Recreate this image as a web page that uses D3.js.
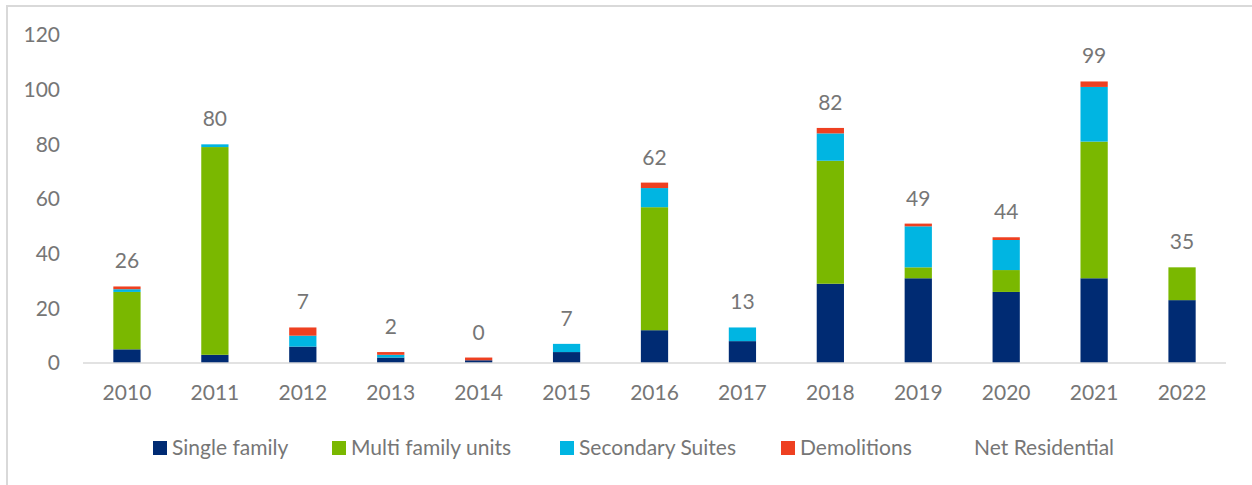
<!DOCTYPE html>
<meta charset="utf-8">
<html>
<!-- Load d3.js -->
<script src="https://d3js.org/d3.v7.min.js"></script>
<style>
  body { margin: 0; background: #fff; }
  text { font-family: Lato, "Open Sans", sans-serif; fill: #767676; }
</style>
<div id="chart"></div>

<script>

// data
var years = ["2010","2011","2012","2013","2014","2015","2016","2017","2018","2019","2020","2021","2022"];
var singleFamily    = [5, 3, 6, 2, 1, 4, 12, 8, 29, 31, 26, 31, 23];
var multiFamily     = [21, 76, 0, 0, 0, 0, 45, 0, 45, 4, 8, 50, 12];
var secondarySuites = [1, 1, 4, 1, 0, 3, 7, 5, 10, 15, 11, 20, 0];
var demolitions     = [1, 0, 3, 1, 1, 0, 2, 0, 2, 1, 1, 2, 0];
var netResidential  = [26, 80, 7, 2, 0, 7, 62, 13, 82, 49, 44, 99, 35];
var yTicks = [0, 20, 40, 60, 80, 100, 120];

var seriesNames = ["Single family", "Multi family units", "Secondary Suites", "Demolitions"];
var colors = ["#002B73", "#7AB800", "#00B5E2", "#EE4021"];

var width = 1252,
    height = 485;

var svg = d3.select("#chart")
  .append("svg")
    .attr("width", width)
    .attr("height", height);

// light frame (only top and left edges show)
svg.append("rect")
  .attr("x", 7)
  .attr("y", 6)
  .attr("width", width + 20)
  .attr("height", height + 20)
  .attr("fill", "none")
  .attr("stroke", "#d9d9d9")
  .attr("stroke-width", 2);

var x = d3.scaleBand()
  .domain(years)
  .range([83, 1226])
  .paddingInner(0.69)
  .paddingOuter(0.345);

var y = d3.scaleLinear()
  .domain([0, 120])
  .range([363, 35]);

// build table for the stack
var table = years.map(function(yr, i) {
  return {
    year: yr,
    "Single family": singleFamily[i],
    "Multi family units": multiFamily[i],
    "Secondary Suites": secondarySuites[i],
    "Demolitions": demolitions[i],
    net: netResidential[i]
  };
});

var stacked = d3.stack().keys(seriesNames)(table);

// y axis labels (no line, no ticks)
svg.append("g")
  .attr("transform", "translate(60,0)")
  .call(d3.axisLeft(y).tickValues(yTicks).tickSize(0).tickPadding(0))
  .call(function(g) { g.select(".domain").remove(); })
  .selectAll("text")
    .style("font-size", "21px")
    .attr("fill", "#767676");

// bars
svg.append("g")
  .selectAll("g")
  .data(stacked)
  .enter().append("g")
    .attr("fill", function(d, i) { return colors[i]; })
  .selectAll("rect")
  .data(function(d) { return d; })
  .enter().append("rect")
    .attr("x", function(d) { return x(d.data.year); })
    .attr("y", function(d) { return y(d[1]); })
    .attr("height", function(d) { return y(d[0]) - y(d[1]); })
    .attr("width", x.bandwidth());

// baseline
svg.append("line")
  .attr("x1", 83)
  .attr("x2", 1226)
  .attr("y1", y(0))
  .attr("y2", y(0))
  .attr("stroke", "#d9d9d9")
  .attr("stroke-width", 1.5);

// x axis labels
svg.append("g")
  .attr("transform", "translate(0," + y(0) + ")")
  .call(d3.axisBottom(x).tickSize(0).tickPadding(22))
  .call(function(g) { g.select(".domain").remove(); })
  .selectAll("text")
    .style("font-size", "21px")
    .attr("fill", "#767676");

// net residential labels above each stack
var topLayer = stacked[stacked.length - 1];
svg.append("g")
  .selectAll("text")
  .data(table)
  .enter().append("text")
    .attr("x", function(d) { return x(d.year) + x.bandwidth() / 2; })
    .attr("y", function(d, i) { return y(topLayer[i][1]) - 18; })
    .attr("text-anchor", "middle")
    .style("font-size", "21px")
    .text(function(d) { return d.net; });

// legend
var legendX = [153, 332, 560, 781, 955];
var legendItems = seriesNames.concat(["Net Residential"]);
var legend = svg.selectAll(".legend")
  .data(legendItems)
  .enter().append("g")
    .attr("class", "legend")
    .attr("transform", function(d, i) { return "translate(" + legendX[i] + ",441)"; });

legend.append("rect")
  .attr("width", 14)
  .attr("height", 14)
  .attr("fill", function(d, i) { return i < colors.length ? colors[i] : "none"; });

legend.append("text")
  .attr("x", 19)
  .attr("y", 7)
  .attr("dy", "0.35em")
  .style("font-size", "21px")
  .text(function(d) { return d; });

</script>
</html>
